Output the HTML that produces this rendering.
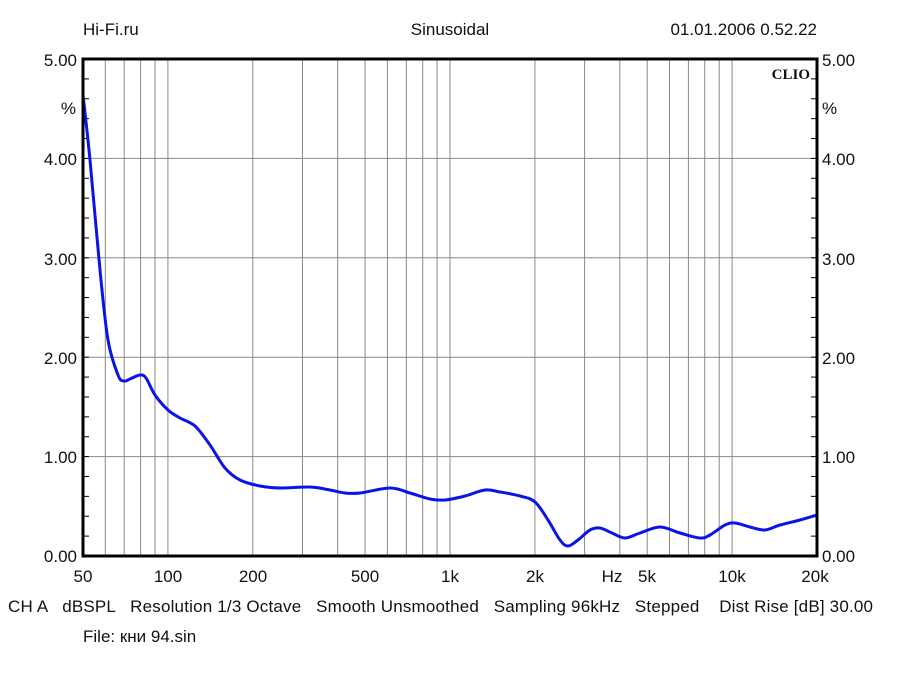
<!DOCTYPE html>
<html><head><meta charset="utf-8"><style>
body{margin:0;background:#fff;}
svg{display:block;font-family:"Liberation Sans",sans-serif;}
</style></head><body>
<svg id="s" width="900" height="675" xmlns="http://www.w3.org/2000/svg">
<g id="grid" stroke="#888" stroke-width="1"></g>
<path id="c" fill="none" stroke="#0a14e6" stroke-width="3" stroke-linejoin="round" d=""/>
<rect x="83" y="59" width="734" height="497" fill="none" stroke="#000" stroke-width="3"/>
<g font-size="17" fill="#111">
<text x="83" y="35">Hi-Fi.ru</text>
<text x="450" y="35" text-anchor="middle">Sinusoidal</text>
<text x="817" y="35" text-anchor="end">01.01.2006 0.52.22</text>
<text x="810" y="79" text-anchor="end" font-family="Liberation Serif" font-weight="bold" font-size="15">CLIO</text>
<g text-anchor="end"><text x="77" y="66">5.00</text><text x="77" y="165">4.00</text><text x="77" y="265">3.00</text><text x="77" y="364">2.00</text><text x="77" y="463">1.00</text><text x="77" y="562">0.00</text><text x="76" y="114">%</text></g>
<g><text x="822" y="66">5.00</text><text x="822" y="165">4.00</text><text x="822" y="265">3.00</text><text x="822" y="364">2.00</text><text x="822" y="463">1.00</text><text x="822" y="562">0.00</text><text x="822" y="114">%</text></g>
<g text-anchor="middle"><text x="83" y="582">50</text><text x="168" y="582">100</text><text x="253" y="582">200</text><text x="365" y="582">500</text><text x="450" y="582">1k</text><text x="535" y="582">2k</text><text x="612" y="582">Hz</text><text x="647" y="582">5k</text><text x="732" y="582">10k</text><text x="815" y="582">20k</text></g>
<text x="8" y="612" xml:space="preserve" textLength="865" lengthAdjust="spacing">CH A   dBSPL   Resolution 1/3 Octave   Smooth Unsmoothed   Sampling 96kHz   Stepped    Dist Rise [dB] 30.00</text>
<text x="83" y="642">File: кни 94.sin</text>
</g>
</svg>
<script>
var g=document.getElementById('grid'),h='';
function X(f){return 83+Math.log10(f/50)*734/Math.log10(400);}
[1,10,100,1000].forEach(function(d){for(var k=1;k<10;k++){var f=k*d*10;if(f>50&&f<20000){var x=X(f).toFixed(1);h+='<line x1="'+x+'" y1="59" x2="'+x+'" y2="556"/>';}}});
for(var i=1;i<5;i++){var y=59+i*99.4;h+='<line x1="83" y1="'+y+'" x2="817" y2="'+y+'"/>';}
for(var i=1;i<25;i++){var y=59+i*19.88;h+='<line x1="83" y1="'+y+'" x2="89" y2="'+y+'" stroke="#000"/><line x1="811" y1="'+y+'" x2="817" y2="'+y+'" stroke="#000"/>';}
g.innerHTML=h;
var p=[[83,95],[90,160],[100,270],[108,340],[118,375],[124,381],[130,379],[140,375],[146,378],[155,395],[168,410],[180,418],[195,426],[210,445],[225,468],[240,480],[260,486],[280,488],[310,487],[330,490],[345,493],[360,493],[390,488],[410,493],[430,499],[445,500],[465,496],[485,490],[500,492],[520,496],[535,502],[548,520],[560,540],[568,546],[578,540],[590,530],[600,528],[612,533],[625,538],[640,533],[660,527],[680,533],[700,538],[710,535],[725,525],[735,523],[750,527],[765,530],[780,525],[800,520],[817,515]];
var d='M'+p[0][0]+','+p[0][1];
for(var i=0;i<p.length-1;i++){var a=p[Math.max(i-1,0)],b=p[i],c=p[i+1],e=p[Math.min(i+2,p.length-1)];
d+=' C'+(b[0]+(c[0]-a[0])/6)+','+(b[1]+(c[1]-a[1])/6)+' '+(c[0]-(e[0]-b[0])/6)+','+(c[1]-(e[1]-b[1])/6)+' '+c[0]+','+c[1];}
document.getElementById('c').setAttribute('d',d);
</script>
</body></html>
